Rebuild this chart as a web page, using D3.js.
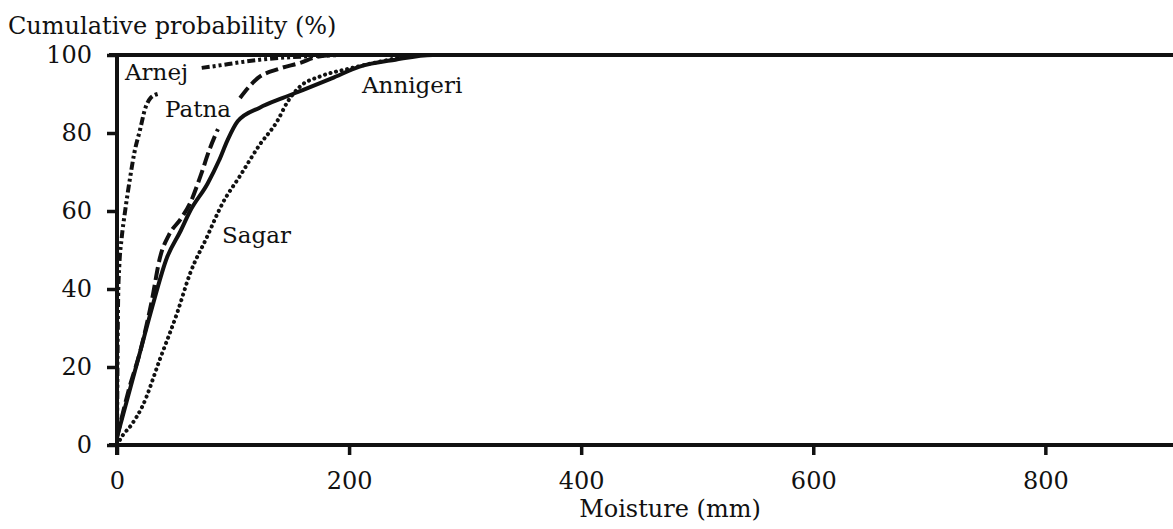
<!DOCTYPE html>
<html><head><meta charset="utf-8">
<script src="https://cdn.jsdelivr.net/npm/d3@7"></script>
<style>body{margin:0;background:#fff}svg{display:block}text{font-family:"DejaVu Serif",serif;fill:#111}</style>
</head><body><svg id="c" width="1173" height="529"></svg>
<script>
const xTicks = [0, 200, 400, 600, 800];
const yTicks = [0, 20, 40, 60, 80, 100];
const arnejX = [0, 1, 2, 4, 7, 11, 15, 20, 24, 29, 35];
const arnejY = [0, 38, 46, 53, 60, 68, 75, 81, 86, 89, 90];
const arnej2X = [73, 90, 103, 130, 160, 200, 910];
const arnej2Y = [96.7, 97.4, 98, 99, 99.6, 100, 100];
const patnaX = [0, 10, 20, 30, 37, 45, 55, 63, 72, 80, 87];
const patnaY = [2, 14, 24, 37, 48, 54, 58, 62, 69, 76, 81];
const patna2X = [106, 121, 140, 158, 172, 190, 910];
const patna2Y = [89, 94, 96.5, 98, 99.5, 100, 100];
const annigeriX = [0, 10, 20, 30, 43, 55, 63, 78, 88, 95, 104, 123, 143, 160, 185, 209, 240, 272, 910];
const annigeriY = [2, 13, 24, 35, 48, 55, 60, 67, 73, 78, 83, 86.5, 89, 91, 94, 97, 98.8, 100, 100];
const sagarX = [0, 5, 12, 22, 37, 52, 63, 77, 91, 106, 123, 138, 147, 158, 175, 200, 230, 259, 910];
const sagarY = [0, 2.5, 5, 10, 22, 34, 44, 53, 62, 69, 77, 83, 88, 92, 94.5, 96.5, 98.5, 100, 100];
const labels = [
  {t:"Arnej", x:125, y:80},
  {t:"Patna", x:165, y:117},
  {t:"Annigeri", x:362, y:93},
  {t:"Sagar", x:222, y:243}
];

const svg = d3.select("#c");
const x = d3.scaleLinear().domain([0, 910]).range([117, 1173]);
const y = d3.scaleLinear().domain([0, 100]).range([445, 55]);

const zip = (a, b) => a.map((v, i) => [v, b[i]]);
const line = d3.line().x(d => x(d[0])).y(d => y(d[1])).curve(d3.curveMonotoneX);

function draw(pts, dash, cap) {
  svg.append("path").attr("d", line(pts)).attr("fill", "none")
    .attr("stroke", "#111").attr("stroke-width", 4)
    .attr("stroke-dasharray", dash).attr("stroke-linecap", cap || "butt");
}
draw(zip(sagarX, sagarY), "0.1,5.6", "round");
draw(zip(patnaX, patnaY), "13,5");
draw(zip(patna2X, patna2Y), "13,5");
draw(zip(arnejX, arnejY), "8,3,3,3,3,3");
draw(zip(arnej2X, arnej2Y), "8,3,3,3,3,3");
draw(zip(annigeriX, annigeriY), null);

// axes
const xa = svg.append("g").attr("transform", `translate(0,${y(0)})`)
  .call(d3.axisBottom(x).tickValues(xTicks).tickSize(10).tickPadding(17).tickFormat(d3.format("d")));
const ya = svg.append("g").attr("transform", `translate(${x(0)},0)`)
  .call(d3.axisLeft(y).tickValues(yTicks).tickSize(10).tickPadding(15).tickFormat(d3.format("d")));
[xa, ya].forEach(g => {
  g.select(".domain").attr("stroke", "#111").attr("stroke-width", 4);
  g.selectAll(".tick line").attr("stroke", "#111").attr("stroke-width", 3.5);
  g.selectAll(".tick text").attr("font-size", 24).attr("font-family", "Liberation Serif").attr("fill", "#111");
});
xa.select(".domain").attr("d", `M${x(0)-8},0H1173`);
ya.select(".domain").attr("d", `M0,${y(0)+10}V${y(100)}`);
svg.append("line").attr("x1", x(0)-8).attr("x2", 1173).attr("y1", y(100)).attr("y2", y(100))
  .attr("stroke", "#111").attr("stroke-width", 4);

svg.append("text").attr("x", 8).attr("y", 34).attr("font-size", 24).text("Cumulative probability (%)");
svg.append("text").attr("x", 670).attr("y", 517).attr("text-anchor", "middle").attr("font-size", 24).text("Moisture (mm)");

labels.forEach(l => {
  svg.append("text").attr("x", l.x).attr("y", l.y).attr("font-size", 23).text(l.t);
});
</script></body></html>
